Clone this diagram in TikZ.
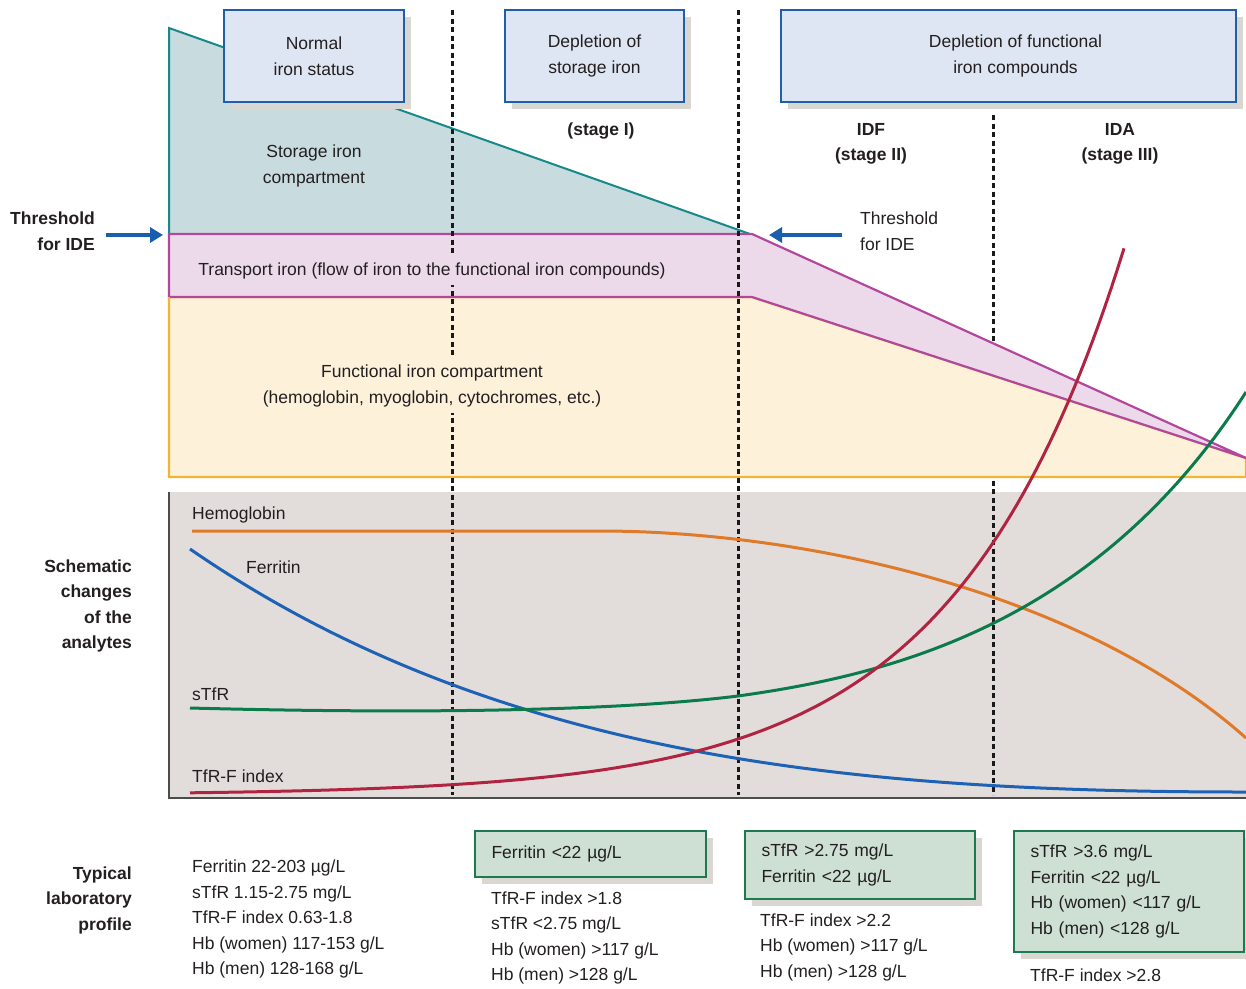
\documentclass[tikz,border=0pt]{standalone}
\usepackage{fontspec}
\setmainfont{Liberation Sans}
\usetikzlibrary{arrows.meta}
\definecolor{ink}{HTML}{231F20}
\definecolor{tealfill}{HTML}{C8DCDF}
\definecolor{tealline}{HTML}{17898A}
\definecolor{pinkfill}{HTML}{ECDAEA}
\definecolor{pinkline}{HTML}{B2479C}
\definecolor{yelfill}{HTML}{FDF1DA}
\definecolor{yelline}{HTML}{F2B531}
\definecolor{panelgray}{HTML}{E2DDDB}
\definecolor{boxfill}{HTML}{DFE6F3}
\definecolor{boxblue}{HTML}{1F5FAA}
\definecolor{gboxfill}{HTML}{CDE0D3}
\definecolor{gboxline}{HTML}{1C7A4E}
\definecolor{shadowgray}{HTML}{DAD6D2}
\definecolor{arrowblue}{HTML}{1A5FAD}
\definecolor{hbcol}{HTML}{E07A2B}
\definecolor{ferrcol}{HTML}{1D62B5}
\definecolor{stfrcol}{HTML}{0B7B4C}
\definecolor{indexcol}{HTML}{B02442}
\begin{document}
\begin{tikzpicture}[x=1pt,y=-1pt,
  every node/.style={font=\fontsize{17.5}{25.5}\selectfont, text=ink, inner sep=0pt},
  boldlabel/.style={font=\fontsize{17.5}{25.5}\selectfont\bfseries},
  stagebox/.style={draw=boxblue, fill=boxfill, line width=2.6pt, align=center, minimum height=92pt},
  labbox/.style={draw=gboxline, fill=gboxfill, line width=2.6pt, align=left, inner xsep=15pt},
  boxshadow/.style={fill=shadowgray},
  divider/.style={draw=black!90, line width=3pt, dash pattern=on 5pt off 3.5pt},
  curve/.style={line width=3pt},
  thresharrow/.style={draw=arrowblue, line width=4pt, -{Triangle[length=13pt,width=15pt]}}]
\useasboundingbox (0,0) rectangle (1246,988);

% lower panel for the analytes
\fill[panelgray] (169,492) rectangle (1246,798);
\draw[draw=black!70, line width=1.5pt] (169,492) -- (169,798) -- (1246,798);

% divider between IDF and IDA (hidden behind the compartments)
\draw[divider] (993,115) -- (993,795);

% storage iron compartment
\filldraw[fill=tealfill, draw=tealline, line width=2pt] (169,234) -- (169,28) -- (750,234) -- cycle;
% functional iron compartment
\filldraw[fill=yelfill, draw=yelline, line width=2.4pt] (169,297) -- (752,297) -- (1246,458) -- (1246,477) -- (169,477) -- cycle;
% transport iron
\filldraw[fill=pinkfill, draw=pinkline, line width=2.2pt] (169,234) -- (752,234) -- (1246,458) -- (752,297) -- (169,297) -- cycle;
\draw[draw=yelline, line width=2.4pt] (169,297) -- (169,477);

% dividers between stages
\draw[divider] (452,10) -- (452,795);
\draw[divider] (738,10) -- (738,795);

% compartment labels
\node[align=center] (storage) at (314,166) {Storage iron\\compartment};
\node[fill=pinkfill, inner xsep=2pt, inner ysep=6pt] (transport) at (432,271) {Transport iron (flow of iron to the functional iron compounds)};
\node[fill=yelfill, align=center, inner xsep=2pt, inner ysep=6pt] (functional) at (432,386) {Functional iron compartment\\(hemoglobin, myoglobin, cytochromes, etc.)};

% stage headings
\fill[boxshadow] (231,17) rectangle (411,109);
\fill[boxshadow] (512,17) rectangle (691,109);
\fill[boxshadow] (788,17) rectangle (1243,109);
\node[stagebox, minimum width=180pt] (normal) at (314,56) {Normal\\iron status};
\node[stagebox, minimum width=179pt] (storagedep) at (594.5,56) {Depletion of\\storage iron};
\node[stagebox, minimum width=455pt] (functdep) at (1008.5,56) {\hspace*{14pt}Depletion of functional\\\hspace*{14pt}iron compounds};

\node[boldlabel] (stageI) at (601,131) {(stage I)};
\node[boldlabel, align=center] (stageII) at (871,144) {IDF\\(stage II)};
\node[boldlabel, align=center] (stageIII) at (1120,144) {IDA\\(stage III)};

% threshold markers
\node[boldlabel, align=right, anchor=east] (threshL) at (95,231) {Threshold\\for IDE};
\node[align=left, anchor=west] (threshR) at (860,231) {Threshold\\for IDE};
\coordinate (arrLfrom) at (106,235);
\coordinate (arrLto) at (163,235);
\coordinate (arrRfrom) at (842,235);
\coordinate (arrRto) at (769,235);
\draw[thresharrow] (arrLfrom) -- (arrLto);
\draw[thresharrow] (arrRfrom) -- (arrRto);

% analyte curves
% hemoglobin: steady, then falling in the late stages
\draw[curve, hbcol] (192,531) -- (600,531) .. controls (800,531) and (1080,590) .. (1246,738);
% ferritin: falls from the start
\draw[curve, ferrcol] (190,549) .. controls (490,756) and (846,792) .. (1246,792);
% soluble transferrin receptor: flat, then rising
\draw[curve, stfrcol] (190,708) .. controls (380,713) and (600,713) .. (738,696)
  .. controls (888,675) and (1096,626) .. (1246,392);
% TfR-F index: exponential rise
\draw[curve, indexcol] plot[domain=190:1124, samples=150] (\x, {795-2.2*exp(0.0059*(\x-190))});

\node[anchor=west] (hbl) at (192,515) {Hemoglobin};
\node[anchor=west] (ferrl) at (246,567) {Ferritin};
\node[anchor=west] (stfrl) at (192,694) {sTfR};
\node[anchor=west] (indexl) at (192,776) {TfR-F index};

\node[boldlabel, align=right, anchor=east] (schem) at (132,606) {Schematic\\changes\\of the\\analytes};

% laboratory profiles
\node[boldlabel, align=right, anchor=east] (typical) at (132,900) {Typical\\laboratory\\profile};
\node[align=left, anchor=west] (normlab) at (192,919) {Ferritin 22-203 µg/L\\sTfR 1.15-2.75 mg/L\\TfR-F index 0.63-1.8\\Hb (women) 117-153 g/L\\Hb (men) 128-168 g/L};

\fill[boxshadow] (482,838) rectangle (713,884);
\fill[boxshadow] (752,838) rectangle (982,906);
\fill[boxshadow] (1021,838) rectangle (1246,959);
\node[labbox, minimum width=231pt, minimum height=46pt, text width=198pt] (lab1) at (590.5,854) {Ferritin <22 µg/L};
\node[labbox, minimum width=230pt, minimum height=68pt, text width=197pt] (lab2) at (860,865) {sTfR >2.75 mg/L\\Ferritin <22 µg/L};
\node[labbox, minimum width=230pt, minimum height=121pt, text width=197pt] (lab3) at (1129,891.5) {sTfR >3.6 mg/L\\Ferritin <22 µg/L\\Hb (women) <117 g/L\\Hb (men) <128 g/L};

\node[align=left, anchor=west] (lab1b) at (491,938) {TfR-F index >1.8\\sTfR <2.75 mg/L\\Hb (women) >117 g/L\\Hb (men) >128 g/L};
\node[align=left, anchor=west] (lab2b) at (760,947) {TfR-F index >2.2\\Hb (women) >117 g/L\\Hb (men) >128 g/L};
\node[anchor=west] (lab3b) at (1030,975) {TfR-F index >2.8};
\end{tikzpicture}
\end{document}
